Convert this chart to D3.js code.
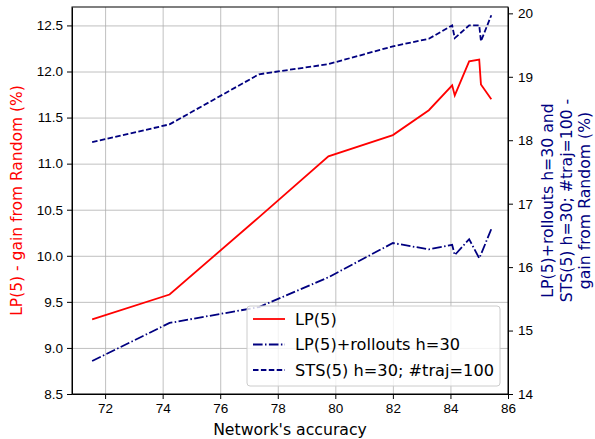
<!DOCTYPE html>
<html>
<head>
<meta charset="utf-8">
<script src="https://cdn.jsdelivr.net/npm/d3@7"></script>
<style>
  body { margin: 0; background: #fff; }
  svg { font-family: "DejaVu Sans", sans-serif; display: block; }
  .grid line { stroke: #b0b0b0; stroke-width: 0.8; }
  .grid path { display: none; }
  .axis text { font-size: 13.5px; fill: #000; }
  .axis path, .axis line { stroke: #000; }
</style>
</head>
<body>
<div id="chart"></div>
<script>
// Network accuracy for each evaluated checkpoint
const accuracy = [71.55, 74.24, 77.35, 79.76, 82.0, 83.25, 84.06, 84.15, 84.65, 85.0, 85.06, 85.42];

// LP(5) gain from random (left axis)
const lp5 = [9.31, 9.58, 10.42, 11.08, 11.31, 11.58, 11.85, 11.74, 12.11, 12.13, 11.86, 11.7];

// Right axis series
const lpRollouts = [14.52, 15.12, 15.37, 15.84, 16.38, 16.28, 16.35, 16.19, 16.44, 16.14, 16.2, 16.6];
const sts = [17.97, 18.25, 19.04, 19.2, 19.48, 19.6, 19.81, 19.61, 19.81, 19.81, 19.56, 19.97];

// Tick labels
const xTicks = [72, 74, 76, 78, 80, 82, 84, 86];
const yLeftTicks = [8.5, 9.0, 9.5, 10.0, 10.5, 11.0, 11.5, 12.0, 12.5];
const yRightTicks = [14, 15, 16, 17, 18, 19, 20];

const legendLabels = ["LP(5)", "LP(5)+rollouts h=30", "STS(5) h=30; #traj=100"];

const width = 595;
const height = 439;
const margin = { top: 7, right: 87, bottom: 45, left: 72 };

const red = "#ff0000";
const navy = "#000080";

const xScale = d3.scaleLinear().domain([70.85, 86]).range([margin.left, width - margin.right]);
const yLeft = d3.scaleLinear().domain([8.5, 12.7]).range([height - margin.bottom, margin.top]);
const yRight = d3.scaleLinear().domain([14, 20.1]).range([height - margin.bottom, margin.top]);

const svg = d3.select("#chart").append("svg").attr("width", width).attr("height", height);

// Grids first
svg.append("g")
  .attr("class", "grid")
  .attr("transform", `translate(0, ${height - margin.bottom})`)
  .call(d3.axisBottom(xScale).tickValues(xTicks).tickSize(-(height - margin.top - margin.bottom)).tickFormat(""));

svg.append("g")
  .attr("class", "grid")
  .attr("transform", `translate(${margin.left}, 0)`)
  .call(d3.axisLeft(yLeft).tickValues(yLeftTicks).tickSize(-(width - margin.left - margin.right)).tickFormat(""));

// Lines
const lineLeft = d3.line().x((d, i) => xScale(accuracy[i])).y((d) => yLeft(d));
const lineRight = d3.line().x((d, i) => xScale(accuracy[i])).y((d) => yRight(d));

const series = [
  { values: lp5, line: lineLeft, color: red, dash: null },
  { values: lpRollouts, line: lineRight, color: navy, dash: "9.6,2.4,1.5,2.4" },
  { values: sts, line: lineRight, color: navy, dash: "5.5,2.4" },
];

svg.selectAll(".series")
  .data(series)
  .enter()
  .append("path")
  .attr("class", "series")
  .attr("fill", "none")
  .attr("stroke", (d) => d.color)
  .attr("stroke-width", 1.8)
  .attr("stroke-dasharray", (d) => d.dash)
  .attr("d", (d) => d.line(d.values));

// Axes
svg.append("g")
  .attr("class", "axis")
  .attr("transform", `translate(0, ${height - margin.bottom})`)
  .call(d3.axisBottom(xScale).tickValues(xTicks).tickSize(5).tickPadding(4).tickSizeOuter(0));

svg.append("g")
  .attr("class", "axis")
  .attr("transform", `translate(${margin.left}, 0)`)
  .call(d3.axisLeft(yLeft).tickValues(yLeftTicks).tickFormat(d3.format(".1f")).tickSize(5).tickPadding(4).tickSizeOuter(0));

svg.append("g")
  .attr("class", "axis")
  .attr("transform", `translate(${width - margin.right}, 0)`)
  .call(d3.axisRight(yRight).tickValues(yRightTicks).tickFormat(d3.format("d")).tickSize(5).tickPadding(5).tickSizeOuter(0));

// Frame
svg.append("rect")
  .attr("x", margin.left)
  .attr("y", margin.top)
  .attr("width", width - margin.left - margin.right)
  .attr("height", height - margin.top - margin.bottom)
  .attr("fill", "none")
  .attr("stroke", "#000")
  .attr("stroke-width", 1);

// Axis labels
const midY = (margin.top + height - margin.bottom) / 2;

svg.append("text")
  .attr("x", (margin.left + width - margin.right) / 2)
  .attr("y", 435)
  .attr("text-anchor", "middle")
  .attr("font-size", 15.7)
  .text("Network's accuracy");

svg.append("text")
  .attr("transform", `translate(22, ${midY}) rotate(-90)`)
  .attr("text-anchor", "middle")
  .attr("font-size", 15.5)
  .attr("fill", red)
  .text("LP(5) - gain from Random (%)");

const rightLabel = ["LP(5)+rollouts h=30 and", "STS(5) h=30; #traj=100 -", "gain from Random (%)"];
svg.append("g")
  .attr("transform", `translate(553, ${midY}) rotate(-90)`)
  .selectAll("text")
  .data(rightLabel)
  .enter()
  .append("text")
  .attr("y", (d, i) => i * 18.5)
  .attr("text-anchor", "middle")
  .attr("font-size", 15.7)
  .attr("fill", navy)
  .text((d) => d);

// Legend
const legend = svg.append("g").attr("transform", "translate(247, 306)");
legend.append("rect")
  .attr("width", 253)
  .attr("height", 80)
  .attr("rx", 3)
  .attr("fill", "#fff")
  .attr("fill-opacity", 0.8)
  .attr("stroke", "#cccccc");

const legendRows = legend.selectAll(".row")
  .data(series)
  .enter()
  .append("g")
  .attr("class", "row")
  .attr("transform", (d, i) => `translate(0, ${13 + i * 25.5})`);

legendRows.append("line")
  .attr("x1", 6)
  .attr("x2", 38)
  .attr("stroke", (d) => d.color)
  .attr("stroke-width", 1.8)
  .attr("stroke-dasharray", (d) => d.dash);

legendRows.append("text")
  .attr("x", 48)
  .attr("dy", "0.35em")
  .attr("font-size", 16.2)
  .text((d, i) => legendLabels[i]);
</script>
</body>
</html>
